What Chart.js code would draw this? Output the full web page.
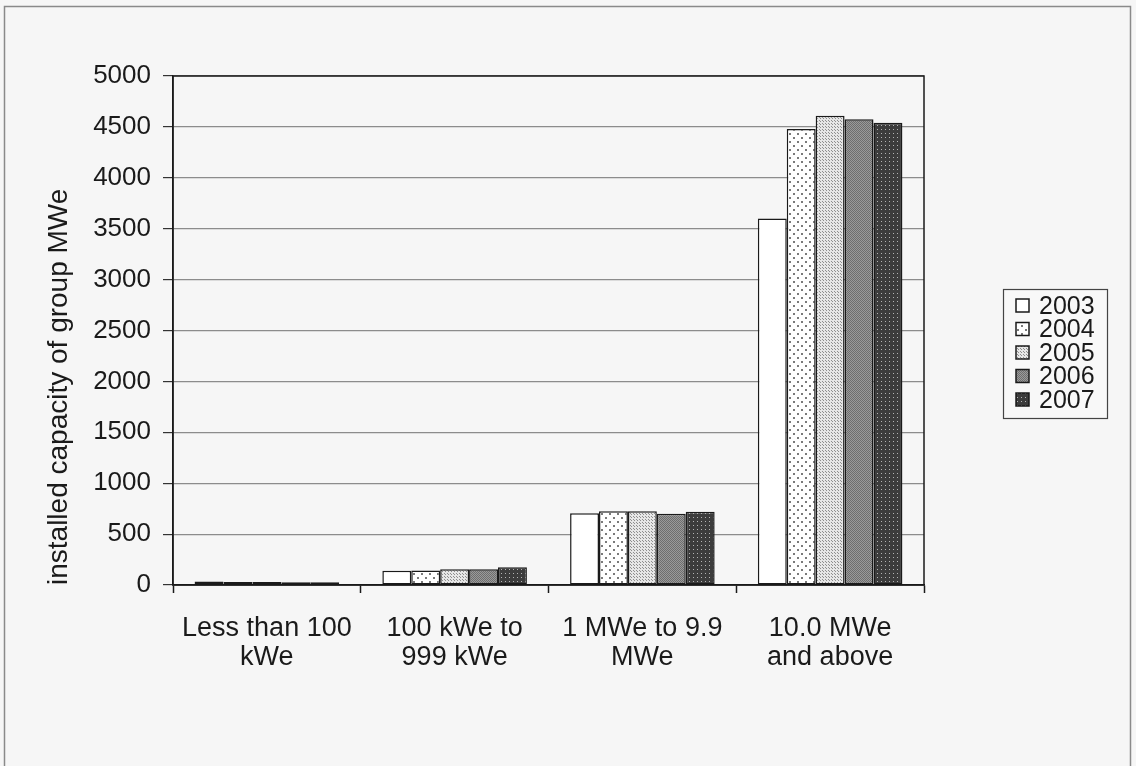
<!DOCTYPE html>
<html>
<head>
<meta charset="utf-8">
<script src="https://cdn.jsdelivr.net/npm/chart.js@4/dist/chart.umd.min.js"></script>
<style>
  html, body { margin: 0; padding: 0; background: #f6f6f6; }
  #wrap { width: 1136px; height: 766px; position: relative; }
</style>
</head>
<body>
<div id="wrap"><canvas id="chart" width="1136" height="766"></canvas></div>
<script>
// Capacity groups (x axis), two-line labels
const categories = [
  ['Less than 100', 'kWe'],
  ['100 kWe to', '999 kWe'],
  ['1 MWe to 9.9', 'MWe'],
  ['10.0 MWe', 'and above']
];
const years = ['2003', '2004', '2005', '2006', '2007'];

// Installed capacity (MWe) per group, one array per year
const v2003 = [35, 140, 705, 3600];
const v2004 = [30, 142, 725, 4480];
const v2005 = [30, 155, 725, 4610];
const v2006 = [28, 155, 700, 4575];
const v2007 = [28, 175, 720, 4540];

const yTicks = [0, 500, 1000, 1500, 2000, 2500, 3000, 3500, 4000, 4500, 5000];

const FONT = "'Liberation Sans', Arial, sans-serif";

// Monochrome hatch fills for each year
function makePattern(w, h, bg, dots, dotColor) {
  const c = document.createElement('canvas');
  c.width = w; c.height = h;
  const g = c.getContext('2d');
  g.fillStyle = bg;
  g.fillRect(0, 0, w, h);
  g.fillStyle = dotColor;
  dots.forEach(d => g.fillRect(d[0], d[1], d[2], d[3]));
  return g.createPattern(c, 'repeat');
}
const ctx = document.getElementById('chart').getContext('2d');
const fills = [
  '#ffffff',
  makePattern(8, 8, '#ffffff', [[1, 1, 2, 2], [5, 5, 2, 2]], '#7a7a7a'),
  makePattern(3, 3, '#e6e6e6', [[1, 1, 1, 1], [0, 0, 1, 1]], '#8e8e8e'),
  makePattern(2, 2, '#9a9a9a', [[0, 0, 1, 1], [1, 1, 1, 1]], '#6e6e6e'),
  makePattern(4, 4, '#3c3c3c', [[1, 1, 1, 1]], '#b4b4b4')
];
const series = [v2003, v2004, v2005, v2006, v2007];

// Canvas backdrop, outer frame and plot-area box
const framePlugin = {
  id: 'frame',
  beforeDraw(chart) {
    const g = chart.ctx;
    g.save();
    g.fillStyle = '#f6f6f6';
    g.fillRect(0, 0, chart.width, chart.height);
    g.strokeStyle = '#8a8a8a';
    g.lineWidth = 1.5;
    g.strokeRect(4.5, 6.5, 1126, 780);
    g.restore();
  },
  afterDatasetsDraw(chart) {
    const a = chart.chartArea;
    const g = chart.ctx;
    g.save();
    g.strokeStyle = '#1a1a1a';
    g.lineWidth = 1.5;
    g.strokeRect(a.left, a.top, a.right - a.left, a.bottom - a.top);
    g.restore();
  }
};

// Boxed legend to the right of the plot
const legendPlugin = {
  id: 'boxLegend',
  afterDraw(chart) {
    const g = chart.ctx;
    const x0 = 1003, y0 = 289, w = 104, h = 129;
    const rowStart = 306, rowGap = 23.5;
    g.save();
    g.fillStyle = '#f8f8f8';
    g.fillRect(x0, y0, w, h);
    g.strokeStyle = '#444';
    g.lineWidth = 1.2;
    g.strokeRect(x0 + 0.5, y0 + 0.5, w, h);
    chart.data.datasets.forEach((ds, i) => {
      const cy = rowStart + i * rowGap;
      g.fillStyle = ds.backgroundColor;
      g.fillRect(1016, cy - 7, 13, 13);
      g.strokeStyle = '#1a1a1a';
      g.lineWidth = 1.5;
      g.strokeRect(1016, cy - 7, 13, 13);
      g.fillStyle = '#1a1a1a';
      g.font = '25px ' + FONT;
      g.textBaseline = 'middle';
      g.textAlign = 'left';
      g.fillText(ds.label, 1039, cy + 1);
    });
    g.restore();
  }
};

new Chart(ctx, {
  type: 'bar',
  data: {
    labels: categories,
    datasets: years.map((y, i) => ({
      label: y,
      data: series[i],
      backgroundColor: fills[i],
      borderColor: '#1a1a1a',
      borderWidth: 1.5,
      borderSkipped: false,
      categoryPercentage: 0.77,
      barPercentage: 1.0
    }))
  },
  options: {
    responsive: false,
    animation: false,
    devicePixelRatio: 1,
    layout: { padding: { top: 76, right: 212, bottom: 61, left: 40 } },
    plugins: {
      legend: { display: false },
      tooltip: { enabled: false }
    },
    scales: {
      x: {
        type: 'category',
        offset: true,
        afterFit(s) { s.height = 120; },
        grid: {
          drawOnChartArea: false,
          offset: true,
          tickLength: 8,
          tickColor: '#1a1a1a',
          tickWidth: 1.5
        },
        border: { color: '#1a1a1a', width: 1.5 },
        ticks: {
          color: '#1a1a1a',
          padding: 21,
          maxRotation: 0,
          autoSkip: false,
          font: { family: FONT, size: 27, lineHeight: 1.08 }
        }
      },
      y: {
        min: 0,
        max: 5000,
        afterFit(s) { s.width = 133; },
        afterBuildTicks(s) { s.ticks = yTicks.map(v => ({ value: v })); },
        grid: {
          color: '#8c8c8c',
          lineWidth: 1.2,
          tickLength: 10,
          tickColor: '#333',
          tickWidth: 1.2
        },
        border: { color: '#1a1a1a', width: 1.5 },
        ticks: {
          color: '#1a1a1a',
          padding: 12,
          callback: v => String(v),
          font: { family: FONT, size: 26 }
        },
        title: {
          display: true,
          align: 'start',
          text: 'installed capacity of group MWe',
          color: '#1a1a1a',
          padding: { top: 2, bottom: 2 },
          font: { family: FONT, size: 28 }
        }
      }
    }
  },
  plugins: [framePlugin, legendPlugin]
});
</script>
</body>
</html>
